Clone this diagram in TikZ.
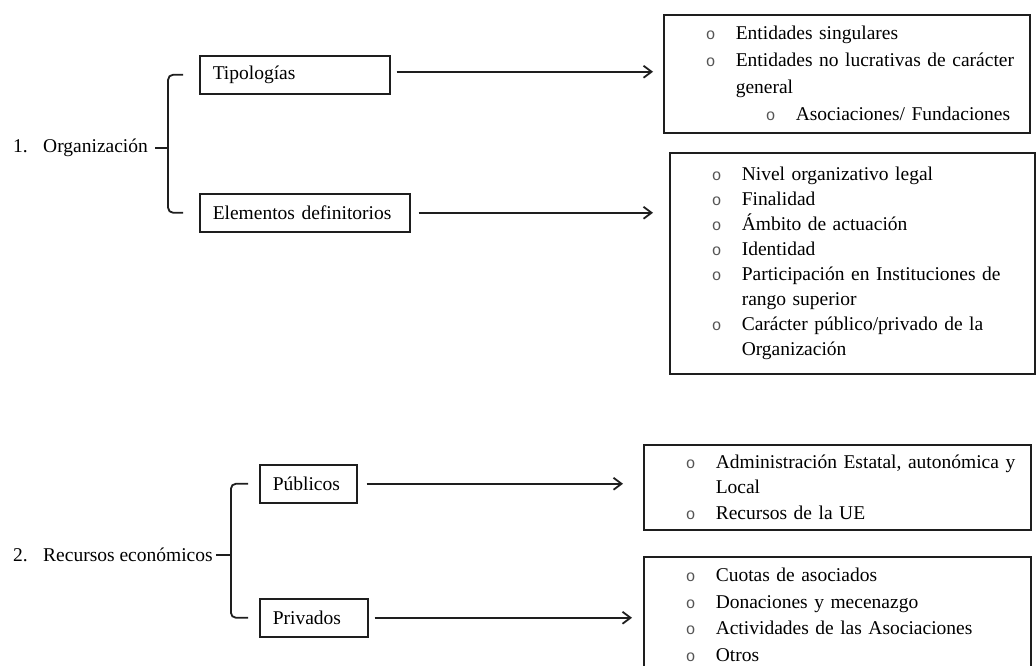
\documentclass[tikz,border=0pt]{standalone}
\usepackage{fontspec}
\setmainfont{Liberation Serif}
\newfontfamily\bulfont{Liberation Mono}
\usetikzlibrary{arrows.meta,calc}
\definecolor{linec}{HTML}{1E1E1E}
\definecolor{bulc}{HTML}{555555}
\newcommand\bul{{\bulfont\fontsize{16}{16}\selectfont\color{bulc}o}}
\newcommand\itm[2][0pt]{\hangindent=\dimexpr#1+68pt\relax\hangafter=1\noindent\hspace*{\dimexpr#1+38pt\relax}\makebox[30pt][l]{\bul}#2\par}
\tikzset{
  ar/.style={-{Straight Barb[length=8pt,width=12pt]},line width=1.8pt,linec},
  brk/.style={line width=1.8pt,linec,rounded corners=5pt},
  cat/.style={draw=linec,line width=1.5pt,anchor=north west,align=left,inner xsep=13pt,inner ysep=0pt,minimum height=38pt},
  lst/.style={draw=linec,line width=1.5pt,anchor=north west,align=left,inner xsep=4pt,inner ysep=0pt},
  hd/.style={anchor=west,inner sep=0pt}
}

\begin{document}
\begin{tikzpicture}[x=1pt,y=-1pt,font=\fontsize{19.5}{25.5}\selectfont]
\useasboundingbox (0,0) rectangle (1036,665);
% 1. Organizacion
\node[hd] (org) at (13,148) {\makebox[30pt][l]{1.}Organización};
\node[cat,text width=164pt] (tipo) at (199,55) {Tipologías};
\node[cat,text width=184pt] (elem) at (199,193) {Elementos definitorios};
\node[lst,text width=358pt,minimum height=118pt,font=\fontsize{19.5}{27}\selectfont] (tipA) at (663,14) {%
  \itm{Entidades singulares}
  \itm{Entidades no lucrativas de carácter\newline general}
  \itm[60pt]{Asociaciones/ Fundaciones}};
\node[lst,text width=357pt,minimum height=221pt,font=\fontsize{19.5}{25}\selectfont] (eleB) at (669,152) {%
  \itm{Nivel organizativo legal}
  \itm{Finalidad}
  \itm{Ámbito de actuación}
  \itm{Identidad}
  \itm{Participación en Instituciones de\newline rango superior}
  \itm{Carácter público/privado de la\newline Organización}};
\draw[brk] ([xshift=-16pt]tipo.west) -| ($(org.east)+(20,0)$) |- ([xshift=-16pt]elem.west);
\draw[brk] ($(org.east)+(7,0)$) -- ($(org.east)+(20,0)$);
\draw[ar,shorten <=6pt,shorten >=10pt] ([yshift=3pt]tipo.east) -- ([yshift=3pt]tipo.east -| tipA.west);
\draw[ar,shorten <=8pt,shorten >=16pt] (elem.east) -- (elem.east -| eleB.west);

% 2. Recursos economicos
\node[hd] (rec) at (13,555) {\makebox[30pt][l]{2.}Recursos económicos};
\node[cat,text width=71pt] (pub) at (259,464) {Públicos};
\node[cat,text width=82pt] (priv) at (259,598) {Privados};
\node[lst,text width=379pt,minimum height=85pt,font=\fontsize{19.5}{25.5}\selectfont] (pubC) at (643,444) {%
  \itm{Administración Estatal, autonómica y\newline Local}
  \itm{Recursos de la UE}};
\node[lst,text width=379pt,minimum height=116pt,font=\fontsize{19.5}{26.7}\selectfont] (priD) at (643,556) {%
  \itm{Cuotas de asociados}
  \itm{Donaciones y mecenazgo}
  \itm{Actividades de las Asociaciones}
  \itm{Otros}};
\draw[brk] ([xshift=-11pt]pub.west) -| ($(rec.east)+(18,0)$) |- ([xshift=-11pt]priv.west);
\draw[brk] ($(rec.east)+(3,0)$) -- ($(rec.east)+(18,0)$);
\draw[ar,shorten <=9pt,shorten >=20pt] (pub.east) -- (pub.east -| pubC.west);
\draw[ar,shorten <=6pt,shorten >=11pt] (priv.east) -- (priv.east -| priD.west);
\end{tikzpicture}
\end{document}
